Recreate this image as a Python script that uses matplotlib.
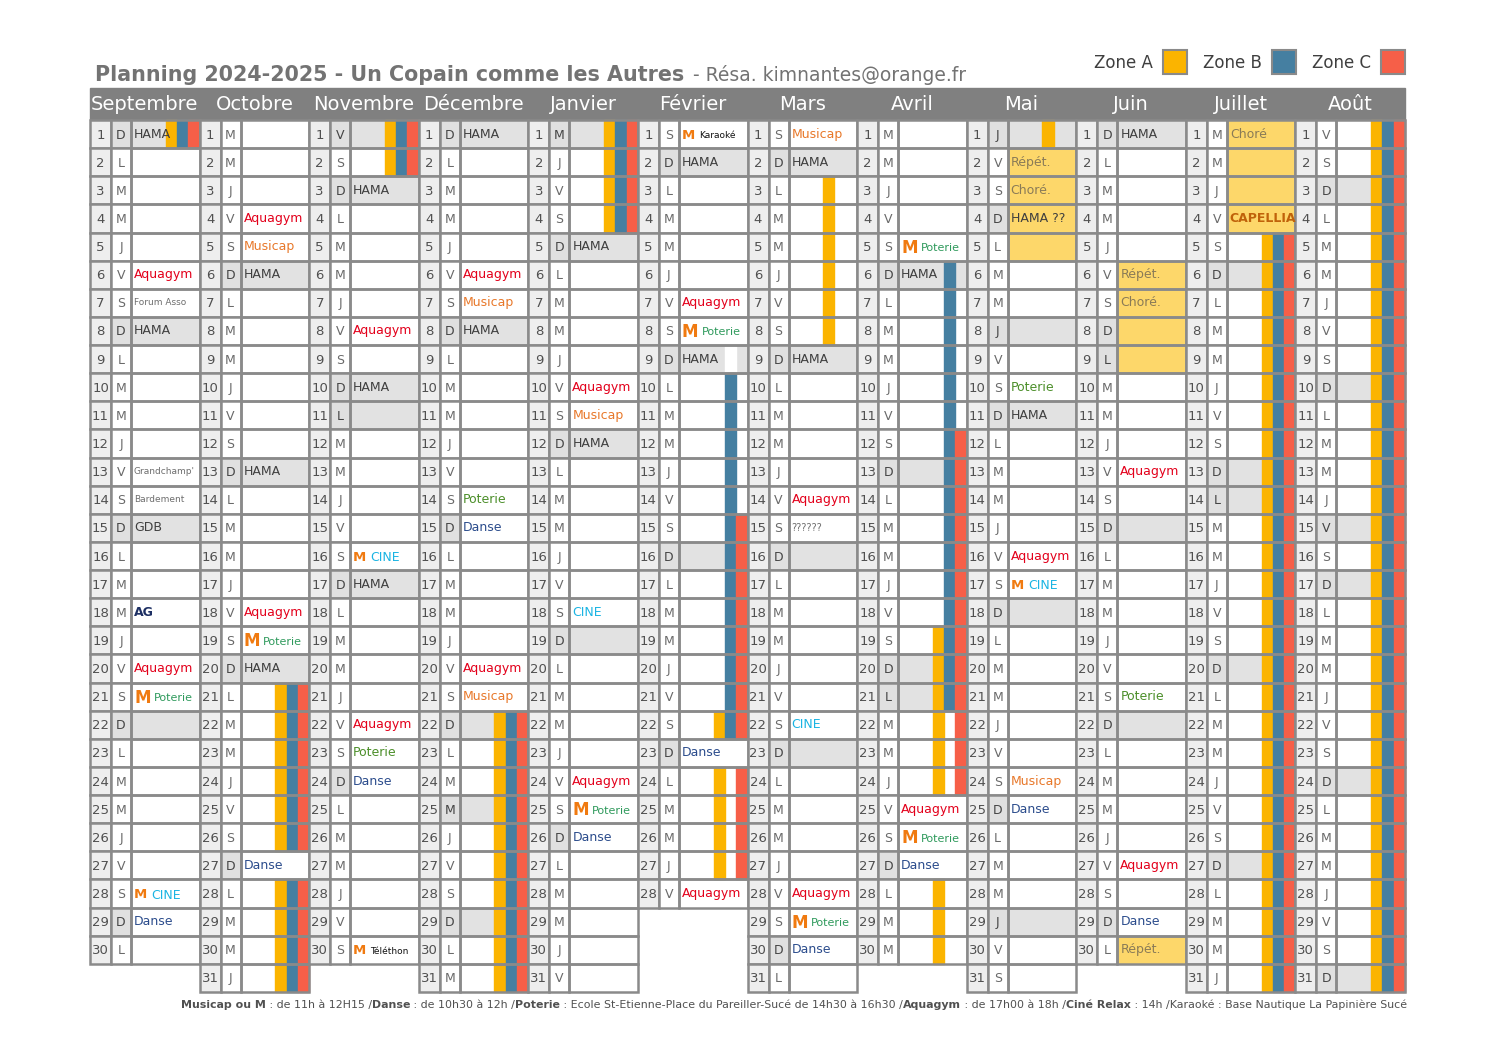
import datetime
import matplotlib.pyplot as plt
from matplotlib.patches import Rectangle

plt.rcParams['font.family'] = ['DejaVu Sans']

# --- données ---
months = ["Septembre", "Octobre", "Novembre", "Décembre", "Janvier", "Février",
          "Mars", "Avril", "Mai", "Juin", "Juillet", "Août"]
years = [2024, 2024, 2024, 2024, 2025, 2025, 2025, 2025, 2025, 2025, 2025, 2025]
month_nums = [9, 10, 11, 12, 1, 2, 3, 4, 5, 6, 7, 8]
days_in_month = [30, 31, 30, 31, 31, 28, 31, 30, 31, 30, 31, 31]
day_letters = ["L", "M", "M", "J", "V", "S", "D"]

# jours fériés (index mois, jour)
feries = [(2, 1), (2, 11), (3, 25), (4, 1), (7, 21), (8, 1), (8, 8), (8, 29),
          (9, 9), (10, 14), (11, 15)]

# vacances scolaires par zone : {mois: [(début, fin), ...]}
zone_a = {0: [(1, 1)], 1: [(21, 26), (28, 31)], 2: [(1, 2)], 3: [(22, 31)],
          4: [(1, 4)], 5: [(22, 22), (24, 27)], 6: [(3, 8)],
          7: [(19, 24), (28, 30)], 8: [(1, 1)], 10: [(5, 31)], 11: [(1, 31)]}
zone_b = {0: [(1, 1)], 1: [(21, 26), (28, 31)], 2: [(1, 2)], 3: [(22, 31)],
          4: [(1, 4)], 5: [(10, 22)], 7: [(6, 21)], 10: [(5, 31)], 11: [(1, 31)]}
zone_c = {0: [(1, 1)], 1: [(21, 26), (28, 31)], 2: [(1, 2)], 3: [(22, 31)],
          4: [(1, 4)], 5: [(15, 22), (24, 27)], 7: [(12, 24)],
          10: [(5, 31)], 11: [(1, 31)]}
blank_b = {5: [(9, 9)]}

# cases surlignées (répétitions / chorégraphies)
yellow_cells = [(8, 2), (8, 3), (8, 4), (8, 5), (9, 6), (9, 7), (9, 8), (9, 9),
                (9, 30), (10, 1), (10, 2), (10, 3), (10, 4)]

events = [
    (0, 1, "HAMA"), (0, 6, "Aquagym"), (0, 7, "Forum Asso"), (0, 8, "HAMA"),
    (0, 13, "Grandchamp'"), (0, 14, "Bardement"), (0, 15, "GDB"), (0, 18, "AG"),
    (0, 20, "Aquagym"), (0, 21, "M Poterie"), (0, 28, "M CINE"), (0, 29, "Danse"),
    (1, 4, "Aquagym"), (1, 5, "Musicap"), (1, 6, "HAMA"), (1, 13, "HAMA"),
    (1, 18, "Aquagym"), (1, 19, "M Poterie"), (1, 20, "HAMA"), (1, 27, "Danse"),
    (2, 3, "HAMA"), (2, 8, "Aquagym"), (2, 10, "HAMA"), (2, 16, "M CINE"),
    (2, 17, "HAMA"), (2, 22, "Aquagym"), (2, 23, "Poterie"), (2, 24, "Danse"),
    (2, 30, "M Téléthon"),
    (3, 1, "HAMA"), (3, 6, "Aquagym"), (3, 7, "Musicap"), (3, 8, "HAMA"),
    (3, 14, "Poterie"), (3, 15, "Danse"), (3, 20, "Aquagym"), (3, 21, "Musicap"),
    (4, 5, "HAMA"), (4, 10, "Aquagym"), (4, 11, "Musicap"), (4, 12, "HAMA"),
    (4, 18, "CINE"), (4, 24, "Aquagym"), (4, 25, "M Poterie"), (4, 26, "Danse"),
    (5, 1, "M Karaoké"), (5, 2, "HAMA"), (5, 7, "Aquagym"), (5, 8, "M Poterie"),
    (5, 9, "HAMA"), (5, 23, "Danse"), (5, 28, "Aquagym"),
    (6, 1, "Musicap"), (6, 2, "HAMA"), (6, 9, "HAMA"), (6, 14, "Aquagym"),
    (6, 15, "??????"), (6, 22, "CINE"), (6, 28, "Aquagym"), (6, 29, "M Poterie"),
    (6, 30, "Danse"),
    (7, 5, "M Poterie"), (7, 6, "HAMA"), (7, 25, "Aquagym"), (7, 26, "M Poterie"),
    (7, 27, "Danse"),
    (8, 2, "Répét."), (8, 3, "Choré."), (8, 4, "HAMA ??"), (8, 10, "Poterie"),
    (8, 11, "HAMA"), (8, 16, "Aquagym"), (8, 17, "M CINE"), (8, 24, "Musicap"),
    (8, 25, "Danse"),
    (9, 1, "HAMA"), (9, 6, "Répét."), (9, 7, "Choré."), (9, 13, "Aquagym"),
    (9, 21, "Poterie"), (9, 27, "Aquagym"), (9, 29, "Danse"), (9, 30, "Répét."),
    (10, 1, "Choré"), (10, 4, "CAPELLIA"),
]

styles = {
    "HAMA": ("#3f3f3f", 9, "normal"), "HAMA ??": ("#3f3f3f", 9, "normal"),
    "GDB": ("#3f3f3f", 9, "normal"),
    "Aquagym": ("#e3001b", 9, "normal"), "Musicap": ("#e8782a", 9, "normal"),
    "Poterie": ("#4c8f2a", 9, "normal"), "Danse": ("#2b4c8c", 9, "normal"),
    "CINE": ("#1ab4e3", 9, "normal"), "AG": ("#1d2f63", 9, "bold"),
    "Forum Asso": ("#6e6e6e", 6.5, "normal"), "Grandchamp'": ("#6e6e6e", 6.5, "normal"),
    "Bardement": ("#6e6e6e", 6.5, "normal"), "??????": ("#6e6e6e", 7, "normal"),
    "Répét.": ("#8a7b57", 9, "normal"), "Choré.": ("#8a7b57", 9, "normal"),
    "Choré": ("#8a7b57", 9, "normal"), "CAPELLIA": ("#c0620a", 9, "bold"),
    "Karaoké": ("#111111", 6.5, "normal"), "Téléthon": ("#111111", 6.5, "normal"),
}

zone_colors = ["#fbb400", "#457fa1", "#f65f48"]
zone_names = ["Zone A", "Zone B", "Zone C"]

footer = [
    ("Musicap ou M", "bold"), (" : de 11h à 12H15 /", "normal"),
    ("Danse", "bold"), (" : de 10h30 à 12h /", "normal"),
    ("Poterie", "bold"),
    (" : Ecole St-Etienne-Place du Pareiller-Sucé de 14h30 à 16h30 /", "normal"),
    ("Aquagym", "bold"), (" : de 17h00 à 18h /", "normal"),
    ("Ciné Relax", "bold"),
    (" : 14h /Karaoké : Base Nautique La Papinière Sucé", "normal"),
]

# --- mise en page ---
fig = plt.figure(figsize=(14.97, 10.58), dpi=100)
ax = fig.add_axes([0, 0, 1, 1])
ax.set_xlim(0, 1497)
ax.set_ylim(1058, 0)
ax.axis('off')
r = fig.canvas.get_renderer()

X0, X1, Y0, Y1 = 90, 1405, 120, 992
MW = (X1 - X0) / 12
RH = (Y1 - Y0) / 31
NW, LWD = 21, 20
EW = MW - NW - LWD
BW = 11.3
grid = "#8a8a8a"

ev_map = {(m, d): t for m, d, t in events}


def spans_to_days(z):
    out = set()
    for m, lst in z.items():
        for a, b in lst:
            for d in range(a, b + 1):
                out.add((m, d))
    return out


zones = [spans_to_days(zone_a), spans_to_days(zone_b), spans_to_days(zone_c)]
blanks = spans_to_days(blank_b)

# bandeau des mois
ax.add_patch(Rectangle((X0, 88), X1 - X0, Y0 - 88, color="#808080", zorder=1))
for m, name in enumerate(months):
    ax.text(X0 + (m + 0.5) * MW, 104, name, color="white", fontsize=14,
            ha="center", va="center", zorder=5)

for m in range(12):
    x = X0 + m * MW
    for d in range(1, days_in_month[m] + 1):
        y = Y0 + (d - 1) * RH
        wd = datetime.date(years[m], month_nums[m], d).weekday()
        dark = wd == 6 or (m, d) in feries
        label = ev_map.get((m, d))
        ex = x + NW + LWD

        # cases
        ax.add_patch(Rectangle((x, y), NW, RH, facecolor="#eeeeee",
                               edgecolor=grid, lw=1.8, zorder=3))
        ax.add_patch(Rectangle((x + NW, y), LWD, RH,
                               facecolor="#e0e0e0" if dark else "white",
                               edgecolor=grid, lw=1.8, zorder=3))
        if (m, d) in yellow_cells:
            fc = "#fdd76a"
        elif label == "Danse":
            fc = "white"
        elif dark:
            fc = "#e2e2e2"
        else:
            fc = "white"
        ax.add_patch(Rectangle((ex, y), EW, RH, facecolor=fc, zorder=1))

        # vacances
        if (m, d) not in yellow_cells:
            for k in range(3):
                bx = ex + EW - (3 - k) * BW
                if (m, d) in zones[k]:
                    ax.add_patch(Rectangle((bx, y), BW, RH,
                                           color=zone_colors[k], zorder=2))
                elif k == 1 and (m, d) in blanks:
                    ax.add_patch(Rectangle((bx, y), BW, RH,
                                           color="white", zorder=2))
        ax.add_patch(Rectangle((ex, y), EW, RH, fill=False,
                               edgecolor=grid, lw=1.8, zorder=3))

        ax.text(x + NW / 2, y + RH / 2 + 1, str(d), fontsize=9.5, color="#505050",
                ha="center", va="center", zorder=5)
        ax.text(x + NW + LWD / 2, y + RH / 2 + 1, day_letters[wd], fontsize=9,
                color="#444444" if dark else "#6a6a6a", ha="center",
                va="center", zorder=5)

        if label:
            tx = ex + 3
            if label.startswith("M "):
                rest = label[2:]
                big = rest == "Poterie"
                tm = ax.text(tx, y + RH / 2 + 1, "M", fontsize=12 if big else 9.5,
                             weight="bold", color="#f07a10", ha="left",
                             va="center", zorder=5)
                tx = tm.get_window_extent(r).x1 + (3 if big else 4)
                col, fs, fw = styles[rest]
                if big:
                    col, fs = "#2f9a5c", 8
                ax.text(tx, y + RH / 2 + 1.5, rest, fontsize=fs, weight=fw,
                        color=col, ha="left", va="center", zorder=5)
            else:
                col, fs, fw = styles[label]
                ax.text(tx, y + RH / 2, label, fontsize=fs, weight=fw,
                        color=col, ha="left", va="center", zorder=5)

# titre
t = ax.text(95, 81, "Planning 2024-2025 - Un Copain comme les Autres",
            fontsize=14.9, weight="bold", color="#737373", va="baseline")
bb = t.get_window_extent(r)
ax.text(bb.x1 + 9, 81, "- Résa. kimnantes@orange.fr", fontsize=13.5,
        color="#737373", va="baseline")

# légende des zones
for k in range(3):
    bx = 1163 + k * 109
    ax.add_patch(Rectangle((bx, 50), 24, 24, facecolor=zone_colors[k],
                           edgecolor="#8a8a8a", lw=1.5))
    ax.text(bx - 10, 63, zone_names[k], fontsize=12, color="#3f3f3f",
            ha="right", va="center")

# pied de page
fx = 181
for txt, fw in footer:
    t = ax.text(fx, 1005, txt, fontsize=7.92, weight=fw, color="#505050",
                ha="left", va="center")
    fx = t.get_window_extent(r).x1

fig.savefig("out.png", dpi=100)
